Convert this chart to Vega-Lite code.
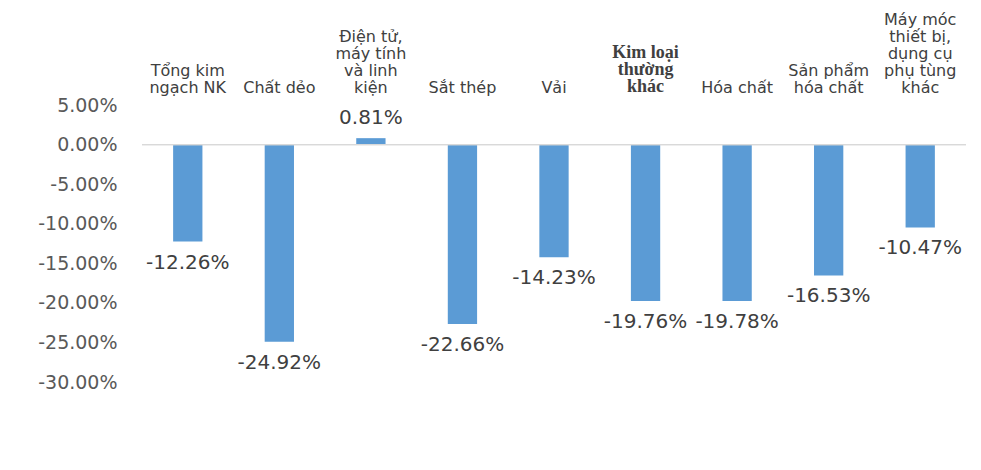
{
  "$schema": "https://vega.github.io/schema/vega-lite/v6.json",
  "autosize": "none",
  "width": 824,
  "height": 277,
  "padding": {"left": 142, "top": 105, "right": 15, "bottom": 88},
  "background": "white",
  "config": {
    "view": {"stroke": null},
    "locale": {"number": {"decimal": ".", "thousands": ",", "grouping": [3], "currency": ["$", ""], "minus": "-"}}
  },
  "data": {
    "values": [
      {"category": "Tổng kim|ngạch NK", "value": -0.1226},
      {"category": "Chất dẻo", "value": -0.2492},
      {"category": "Điện tử,|máy tính|và linh|kiện", "value": 0.0081},
      {"category": "Sắt thép", "value": -0.2266},
      {"category": "Vải", "value": -0.1423},
      {"category": "Kim loại|thường|khác", "value": -0.1976},
      {"category": "Hóa chất", "value": -0.1978},
      {"category": "Sản phẩm|hóa chất", "value": -0.1653},
      {"category": "Máy móc|thiết bị,|dụng cụ|phụ tùng|khác", "value": -0.1047}
    ]
  },
  "encoding": {
    "x": {
      "field": "category",
      "type": "nominal",
      "sort": null,
      "scale": {"paddingInner": 0.68, "paddingOuter": 0.34},
      "axis": {
        "orient": "top",
        "title": null,
        "domain": false,
        "ticks": false,
        "labelAngle": 0,
        "labelPadding": 78,
        "labelLimit": 0,
        "labelOverlap": false,
        "labelFontSize": {"condition": {"test": "indexof(datum.value, 'Kim loại') >= 0", "value": 18}, "value": 16},
        "labelLineHeight": 17,
        "labelColor": "#404040",
        "labelFont": {"condition": {"test": "indexof(datum.value, 'Kim loại') >= 0", "value": "Liberation Serif"}, "value": "DejaVu Sans"},
        "labelFontWeight": {"condition": {"test": "indexof(datum.value, 'Kim loại') >= 0", "value": "bold"}, "value": "normal"},
        "labelExpr": "split(slice('\u200b|\u200b|\u200b|\u200b|', 0, 2 * (5 - length(split(datum.label, '|')))) + datum.label, '|')"
      }
    },
    "y": {
      "field": "value",
      "type": "quantitative",
      "scale": {"domain": [-0.30, 0.05], "nice": false, "zero": false},
      "axis": {
        "title": null,
        "domain": false,
        "ticks": false,
        "grid": false,
        "values": [0.05, 0, -0.05, -0.10, -0.15, -0.20, -0.25, -0.30],
        "format": ".2%",
        "labelFont": "DejaVu Sans",
        "labelFontSize": 19,
        "labelColor": "#595959",
        "labelPadding": 25
      }
    }
  },
  "layer": [
    {
      "mark": {"type": "bar", "color": "#5B9BD5"}
    },
    {
      "mark": {"type": "rule", "color": "#D9D9D9", "strokeWidth": 1},
      "encoding": {"y": {"datum": 0}, "x": null}
    },
    {
      "transform": [{"filter": "datum.value < 0"}],
      "mark": {"type": "text", "font": "DejaVu Sans", "fontSize": 20, "color": "#404040", "baseline": "middle", "dy": 21},
      "encoding": {"text": {"field": "value", "type": "quantitative", "format": ".2%"}}
    },
    {
      "transform": [{"filter": "datum.value >= 0"}],
      "mark": {"type": "text", "font": "DejaVu Sans", "fontSize": 20, "color": "#404040", "baseline": "middle", "dy": -20},
      "encoding": {"text": {"field": "value", "type": "quantitative", "format": ".2%"}}
    }
  ]
}
